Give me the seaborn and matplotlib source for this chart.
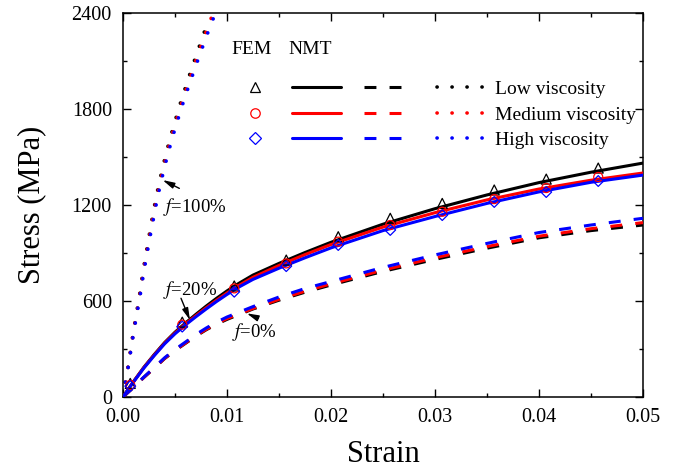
import matplotlib
matplotlib.use("Agg")
import matplotlib.pyplot as plt
import seaborn as sns
from matplotlib.lines import Line2D
from matplotlib.ticker import MultipleLocator, FormatStrFormatter

# ---------------- data ----------------
# FEM markers
fem_strain = [0.0007, 0.0057, 0.0107, 0.0157, 0.0207, 0.0257, 0.0307, 0.0357, 0.0407, 0.0457]
fem_low = [85, 468, 694, 856, 1002, 1117, 1210, 1294, 1362, 1431]
fem_med = [75, 452, 679, 835, 971, 1075, 1158, 1237, 1306, 1375]
fem_high = [68, 440, 658, 818, 950, 1044, 1137, 1219, 1281, 1350]

# NMT, f = 20 % (solid)
f20_strain = [0, 0.0005, 0.001, 0.002, 0.003, 0.004, 0.005, 0.006, 0.007, 0.008, 0.009, 0.010,
              0.011, 0.0125, 0.015, 0.0175, 0.02, 0.025, 0.03, 0.035, 0.04, 0.045, 0.05]
f20_low = [0, 48, 95, 185, 265, 340, 405, 462, 516, 568, 617, 663, 705, 762, 835, 903, 967,
           1080, 1177, 1263, 1340, 1405, 1462]
f20_med = [0, 48, 95, 183, 262, 336, 400, 456, 508, 558, 605, 650, 692, 748, 822, 890, 953,
           1062, 1152, 1232, 1300, 1355, 1400]
f20_high = [0, 47, 93, 180, 258, 332, 395, 450, 501, 550, 597, 641, 682, 735, 805, 870, 932,
            1040, 1128, 1210, 1282, 1342, 1387]

# NMT, f = 0 % (dashed)
f0_strain = [0, 0.001, 0.002, 0.003, 0.004, 0.005, 0.006, 0.007, 0.008, 0.009, 0.010,
             0.0125, 0.015, 0.0175, 0.02, 0.025, 0.03, 0.035, 0.04, 0.045, 0.05]
f0_low = [0, 60, 122, 180, 240, 290, 335, 380, 420, 455, 485, 550, 605, 655, 700, 785, 860, 930, 995, 1040, 1075]
f0_med = [0, 60, 122, 181, 241, 292, 337, 383, 423, 459, 490, 553, 610, 661, 707, 793, 870, 940, 1005, 1052, 1090]
f0_high = [0, 61, 124, 184, 245, 297, 343, 390, 431, 468, 500, 565, 625, 678, 722, 810, 888, 960, 1028, 1075, 1117]

# NMT, f = 100 % (dotted)
f100_stress = [0, 44, 127, 227, 321, 414, 508, 600, 694, 789, 881, 975, 1064, 1158, 1252, 1343,
               1437, 1531, 1625, 1712, 1806, 1900, 1994, 2087, 2181, 2275, 2368]
f100_high = [0, 0.0001, 0.00035, 0.00061, 0.00083, 0.00106, 0.00131, 0.00157, 0.0018, 0.00202,
             0.00228, 0.00253, 0.00279, 0.00306, 0.00334, 0.00366, 0.004, 0.00438, 0.00477,
             0.00518, 0.00562, 0.0061, 0.0066, 0.0071, 0.00762, 0.00815, 0.0087]
f100_med = [0, 0.0001, 0.00034, 0.00059, 0.00081, 0.00103, 0.00128, 0.00153, 0.00176, 0.00197,
            0.00222, 0.00247, 0.00272, 0.00298, 0.00326, 0.00357, 0.0039, 0.00427, 0.00465,
            0.00505, 0.00548, 0.00595, 0.00644, 0.00692, 0.00743, 0.00795, 0.00848]
f100_low = [0, 0.0001, 0.00033, 0.00058, 0.00079, 0.00101, 0.00125, 0.0015, 0.00172, 0.00193,
            0.00218, 0.00242, 0.00266, 0.00292, 0.00319, 0.0035, 0.00382, 0.00418, 0.00456,
            0.00495, 0.00537, 0.00583, 0.0063, 0.00678, 0.00728, 0.00778, 0.00831]

series_labels = ["Low viscosity", "Medium viscosity", "High viscosity"]
colors = ["black", "#ff0000", "#0000ff"]
fem_markers = ["^", "o", "D"]
fem_sizes = [52, 42, 30]

# ---------------- style ----------------
sns.set_theme(style="ticks")
plt.rcParams["font.family"] = ["Liberation Serif", "DejaVu Serif"]
plt.rcParams["mathtext.fontset"] = "stix"
plt.rcParams["text.color"] = "black"
plt.rcParams["axes.labelcolor"] = "black"
plt.rcParams["xtick.color"] = "black"
plt.rcParams["ytick.color"] = "black"

fig = plt.figure(figsize=(6.87, 4.75), dpi=100)
ax = fig.add_axes([0.1790, 0.1642, 0.7569, 0.8084])

LW = 2.2
DASH = (3.9, 4.3)
DOT_LW = 2.6
DOT = (0.05, 4.1)

fem_data = [fem_low, fem_med, fem_high]
f20_data = [f20_low, f20_med, f20_high]
f0_data = [f0_low, f0_med, f0_high]
f100_data = [f100_low, f100_med, f100_high]

for i in range(3):
    sns.lineplot(x=f100_data[i], y=f100_stress, ax=ax, color=colors[i], linewidth=DOT_LW,
                 sort=False, estimator=None, zorder=2 + i * 0.1)
    ln = ax.lines[-1]
    ln.set_dashes(DOT)
    ln.set_dash_capstyle("round")

for i in range(3):
    sns.lineplot(x=f0_strain, y=f0_data[i], ax=ax, color=colors[i], linewidth=LW,
                 sort=False, estimator=None, zorder=3 + i * 0.1)
    ax.lines[-1].set_dashes(DASH)

for i in range(3):
    sns.lineplot(x=f20_strain, y=f20_data[i], ax=ax, color=colors[i], linewidth=LW,
                 sort=False, estimator=None, zorder=4 + i * 0.1)

for i in range(3):
    sns.scatterplot(x=fem_strain, y=fem_data[i], ax=ax, marker=fem_markers[i], s=fem_sizes[i],
                    color=colors[i], facecolor="none", edgecolor=colors[i], linewidth=0.9,
                    zorder=6 + i * 0.1)

# ---------------- axes ----------------
ax.set_xlim(0, 0.05)
ax.set_ylim(0, 2400)
ax.xaxis.set_major_locator(MultipleLocator(0.01))
ax.xaxis.set_minor_locator(MultipleLocator(0.005))
ax.yaxis.set_major_locator(MultipleLocator(600))
ax.yaxis.set_minor_locator(MultipleLocator(300))
ax.xaxis.set_major_formatter(FormatStrFormatter("%.2f"))
ax.tick_params(which="both", direction="in", top=True, right=True, colors="black",
               labelcolor="black", width=1.0, labelsize=14.5)
ax.tick_params(which="major", length=6)
ax.tick_params(which="minor", length=3)
ax.tick_params(axis="x", pad=8)
ax.tick_params(axis="y", pad=8)
for sp in ax.spines.values():
    sp.set_visible(True)
    sp.set_color("black")
    sp.set_linewidth(1.1)

ax.set_xlabel("Strain", fontsize=22, labelpad=9, color="black")
ax.set_ylabel("Stress (MPa)", fontsize=22, labelpad=18, color="black")
ax.grid(False)

# ---------------- annotations ----------------
arrow_kw = dict(arrowstyle="-|>,head_length=0.7,head_width=0.18", color="black", lw=1.0,
                mutation_scale=10, shrinkA=0, shrinkB=0)
ax.annotate("", xy=(0.00381, 1356), xytext=(0.00542, 1304), arrowprops=arrow_kw)
ax.text(0.00385, 1187, "$f$=100%", fontsize=13.5, ha="left", va="center", color="black")
ax.annotate("", xy=(0.00644, 481), xytext=(0.00558, 617), arrowprops=arrow_kw)
ax.text(0.00385, 669, "$f$=20%", fontsize=13.5, ha="left", va="center", color="black")
ax.annotate("", xy=(0.0119, 523), xytext=(0.0130, 492), arrowprops=arrow_kw)
ax.text(0.0105, 406, "$f$=0%", fontsize=13.5, ha="left", va="center", color="black")

# ---------------- legend (four column blocks) ----------------
LEG_FS = 14
row_y = 0.735
common = dict(frameon=False, fontsize=LEG_FS, loc="center left", borderpad=0,
              borderaxespad=0, labelspacing=0.4, labelcolor="black")

h_fem = [Line2D([], [], linestyle="none", marker=fem_markers[i], markersize=[7.5, 6.8, 6.0][i],
                markerfacecolor="none", markeredgecolor=colors[i], markeredgewidth=0.9)
         for i in range(3)]
leg1 = ax.legend(h_fem, ["", "", ""], handlelength=1.0, handletextpad=0,
                 bbox_to_anchor=((255 - 9.7 - 123) / 520, row_y), **common)
ax.add_artist(leg1)

h_solid = [Line2D([], [], color=colors[i], lw=LW) for i in range(3)]
leg2 = ax.legend(h_solid, ["", "", ""], handlelength=2.52, handletextpad=0,
                 bbox_to_anchor=((292 - 123) / 520, row_y), **common)
ax.add_artist(leg2)

h_dash = [Line2D([], [], color=colors[i], lw=LW, dashes=DASH) for i in range(3)]
leg3 = ax.legend(h_dash, ["", "", ""], handlelength=2.52, handletextpad=0,
                 bbox_to_anchor=((364 - 123) / 520, row_y), **common)
ax.add_artist(leg3)

h_dot = [Line2D([], [], color=colors[i], lw=DOT_LW, dashes=DOT, dash_capstyle="round")
         for i in range(3)]
leg4 = ax.legend(h_dot, series_labels, handlelength=2.5, handletextpad=0.5,
                 bbox_to_anchor=((437 - 123) / 520, row_y), **common)

ax.text((252 - 123) / 520, 0.905, "FEM", transform=ax.transAxes, fontsize=14,
        ha="center", va="center", color="black")
ax.text((310 - 123) / 520, 0.905, "NMT", transform=ax.transAxes, fontsize=14,
        ha="center", va="center", color="black")

fig.savefig("out.png", dpi=100)
